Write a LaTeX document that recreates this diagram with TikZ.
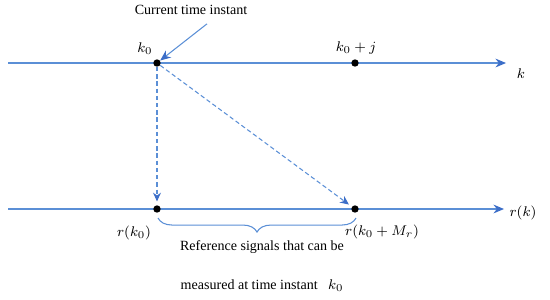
\documentclass[tikz,border=0pt]{standalone}
\usepackage{fontspec}
\setmainfont{Liberation Serif}
\usetikzlibrary{arrows.meta,decorations.pathreplacing}

\definecolor{axisblue}{RGB}{91,143,214}
\definecolor{tipblue}{RGB}{60,110,200}

\tikzset{
    axis/.style={axisblue, line width=0.6pt, -{Stealth[length=6pt,width=5pt,color=tipblue]}},
    pointer/.style={axisblue, line width=0.6pt, dash pattern=on 2.5pt off 1.6pt, -{Stealth[length=5pt,width=4.5pt,color=tipblue]}},
    dot/.style={circle, fill, inner sep=0pt, minimum size=4.2pt},
    lbl/.style={font=\fontsize{8}{10}\selectfont, inner sep=1pt},
}

\begin{document}
\begin{tikzpicture}[x=0.02cm, y=-0.02cm]
    \useasboundingbox (0,0) rectangle (550,299);

    % time axes
    \coordinate (top start) at (8,63);
    \coordinate (top end) at (506,63);
    \coordinate (bot start) at (8,209);
    \coordinate (bot end) at (504,209);
    \draw [axis]
        (top start) -- (top end)
        ;
    \draw [axis]
        (bot start) -- (bot end)
        ;

    % instants
    \node [dot] (k0) at (157,63) {};
    \node [dot] (k0j) at (355,63) {};
    \node [dot] (r0) at (157,209) {};
    \node [dot] (rM) at (355,209) {};

    \node [lbl] (k0 lbl) at (145,49) {$k_0$};
    \node [lbl] (k0j lbl) at (356,48) {$k_0+j$};
    \node [lbl] (k lbl) at (521,74) {$k$};
    \node [lbl] (r0 lbl) at (134,233) {$r(k_0)$};
    \node [lbl] (rM lbl) at (382,232) {$r(k_0+M_r)$};
    \node [lbl] (rk lbl) at (523,213) {$r(k)$};

    % projections of k0
    \draw [pointer, shorten >=2pt]
        (k0) -- (r0)
        ;
    \draw [pointer, shorten >=2pt]
        (k0) -- (rM)
        ;

    % current instant
    \node [lbl] (now) at (191,10) {Current time instant};
    \draw [axisblue, line width=0.6pt, -{Stealth[length=6pt,width=5pt,color=tipblue]}]
        (now.south) ++(16,7) coordinate (now foot) -- (k0)
        ;

    % measured window
    \draw [axisblue, line width=0.6pt, decorate, decoration={brace, mirror, amplitude=8pt, aspect=0.5}]
        (158,218) -- (356,218)
        ;
    \node [lbl] (window a) at (262,247) {Reference signals that can be};
    \node [lbl] (window b) at (262,286) {measured at time instant \enspace$k_0$};
\end{tikzpicture}
\end{document}
